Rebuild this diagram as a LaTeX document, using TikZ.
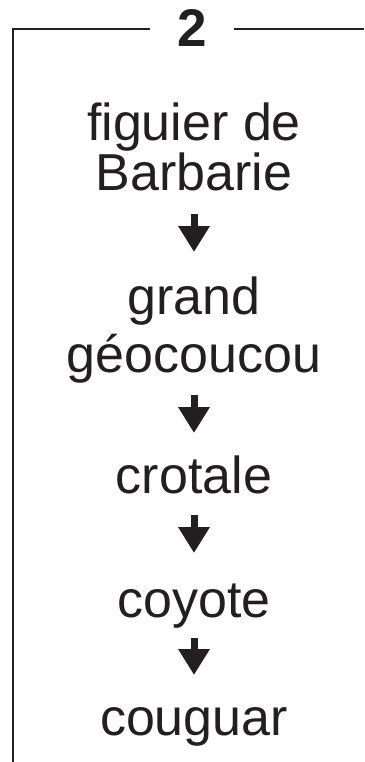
\documentclass[tikz,border=0pt]{standalone}
\usepackage{fontspec}
\setmainfont{Liberation Sans}
\usepackage{tikz}
\usepackage{xcolor}
\usetikzlibrary{arrows.meta}
\definecolor{ink}{HTML}{231F20}

\begin{document}
\begin{tikzpicture}[x=1pt,y=-1pt,
  species/.style={font=\fontsize{52}{48}\selectfont,align=center,inner sep=0pt,anchor=base,text=ink},
  eats/.style={ink,line width=7pt,-{Triangle[width=30pt,length=26pt]}},
  frame/.style={ink,line width=2pt}]
\useasboundingbox (0,0) rectangle (364,762);
% food chain number
\node[font=\fontsize{53}{53}\selectfont\bfseries,text=ink,inner ysep=0pt,inner xsep=27pt,
  text height=39pt,text depth=3pt,anchor=base] (num) at (192,47) {2};
\coordinate (corner) at (12.5,29);
\coordinate (bottom) at (12.5,762);
\coordinate (right) at (364,29);
\draw[frame] (num.west) -- (corner) -- (bottom);
\draw[frame] (num.east) -- (right);
% the chain (base = last line)
\node[species] (figuier) at (194,190) {figuier de\\Barbarie};
\node[species] (geocoucou) at (194,372) {grand\\[7pt]géocoucou};
\node[species] (crotale) at (194,493) {crotale};
\node[species] (coyote) at (194,617) {coyote};
\node[species] (couguar) at (194,735) {couguar};
\foreach \from/\to/\s/\e in {figuier/geocoucou/24/120,geocoucou/crotale/23/60,
  crotale/coyote/22/64,coyote/couguar/21/60}{
 \draw[eats,shorten <=\s pt,shorten >=\e pt] (\from.base) -- (\to.base);
 }
\end{tikzpicture}
\end{document}
